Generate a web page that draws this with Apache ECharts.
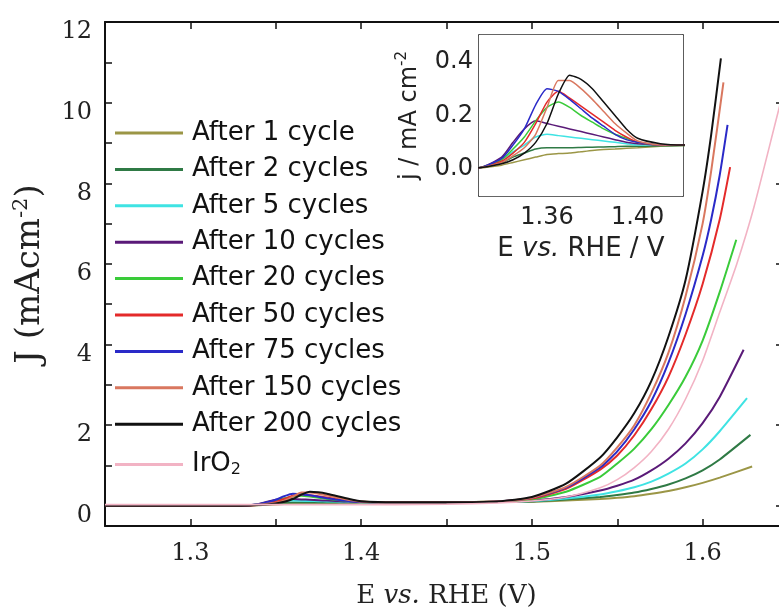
<!DOCTYPE html>
<html>
<head>
<meta charset="utf-8">
<script src="https://cdn.jsdelivr.net/npm/echarts@6/dist/echarts.min.js"></script>
<style>html,body{margin:0;padding:0;background:#fff;}#c{width:779px;height:612px;}</style>
</head>
<body>
<div id="c"></div>
<script>
// ---- data ----
const names = ['After 1 cycle','After 2 cycles','After 5 cycles','After 10 cycles','After 20 cycles','After 50 cycles','After 75 cycles','After 150 cycles','After 200 cycles','IrO2'];
const E = [1.25,1.30,1.33,1.34,1.345,1.35,1.355,1.36,1.365,1.37,1.375,1.38,1.385,1.39,1.395,1.40,1.41,1.42,1.45,1.48,1.50,1.52,1.54,1.55,1.56,1.57,1.58,1.59,1.60];
const J_1   = [0,0,0.005,0.015,0.025,0.035,0.045,0.055,0.058,0.06,0.065,0.07,0.073,0.075,0.078,0.08,0.085,0.088,0.09,0.095,0.1,0.13,0.17,0.2,0.24,0.3,0.37,0.46,0.57];
const J_2   = [0,0,0.005,0.025,0.045,0.06,0.075,0.08,0.08,0.08,0.081,0.082,0.083,0.084,0.085,0.085,0.087,0.088,0.09,0.1,0.11,0.16,0.22,0.27,0.33,0.42,0.53,0.68,0.88];
const J_5   = [0,0,0.005,0.035,0.065,0.09,0.12,0.13,0.125,0.12,0.115,0.11,0.105,0.1,0.095,0.09,0.09,0.09,0.09,0.1,0.12,0.18,0.28,0.36,0.46,0.6,0.8,1.05,1.4];
const J_10  = [0,0,0.005,0.045,0.1,0.15,0.18,0.17,0.16,0.15,0.14,0.13,0.12,0.11,0.1,0.095,0.09,0.09,0.09,0.1,0.13,0.22,0.38,0.5,0.65,0.88,1.17,1.55,2.05];
const J_20  = [0,0,0.005,0.035,0.075,0.12,0.18,0.23,0.25,0.23,0.2,0.175,0.15,0.13,0.115,0.1,0.09,0.09,0.09,0.105,0.16,0.35,0.72,1.05,1.42,1.9,2.5,3.2,4.1];
const J_50  = [0,0,0.005,0.03,0.06,0.1,0.17,0.25,0.29,0.265,0.235,0.205,0.175,0.145,0.12,0.1,0.09,0.09,0.09,0.11,0.18,0.42,0.9,1.25,1.75,2.4,3.2,4.25,5.5];
const J_75  = [0,0,0.005,0.04,0.09,0.15,0.24,0.3,0.29,0.26,0.225,0.19,0.16,0.13,0.11,0.1,0.09,0.09,0.09,0.11,0.2,0.45,0.95,1.35,1.9,2.6,3.55,4.75,6.2];
const J_150 = [0,0,0.005,0.025,0.05,0.08,0.13,0.23,0.33,0.33,0.3,0.26,0.215,0.17,0.135,0.105,0.09,0.09,0.09,0.11,0.2,0.47,1.0,1.45,2.0,2.8,3.8,5.2,7.0];
const J_200 = [0,0,0.005,0.02,0.035,0.06,0.1,0.17,0.28,0.35,0.335,0.3,0.25,0.2,0.15,0.115,0.095,0.09,0.09,0.11,0.22,0.55,1.2,1.7,2.3,3.1,4.2,5.6,7.8];
const J_Ir  = [0.03,0.03,0.03,0.03,0.03,0.03,0.03,0.03,0.03,0.03,0.03,0.03,0.03,0.03,0.03,0.03,0.03,0.03,0.04,0.07,0.12,0.22,0.45,0.65,0.95,1.35,1.9,2.65,3.6];
const tailE_1 = [1.61,1.629],   tailJ_1 = [0.7,0.975];
const tailE_2 = [1.61,1.628],   tailJ_2 = [1.15,1.76];
const tailE_5 = [1.61,1.626],   tailJ_5 = [1.85,2.67];
const tailE_10 = [1.61,1.624],  tailJ_10 = [2.7,3.87];
const tailE_20 = [1.61,1.6197], tailJ_20 = [5.3,6.6];
const tailE_50 = [1.61,1.6161], tailJ_50 = [7.1,8.4];
const tailE_75 = [1.605,1.61,1.6146], tailJ_75 = [7.1,8.2,9.45];
const tailE_150 = [1.605,1.6122], tailJ_150 = [8.3,10.5];
const tailE_200 = [1.605,1.6107], tailJ_200 = [9.2,11.1];
const tailE_Ir = [1.61,1.62,1.63,1.645,1.66], tailJ_Ir = [4.8,6.0,7.4,9.9,12.3];
const xLabels = [1.3,1.4,1.5,1.6];
const yLabels = [0,2,4,6,8,10,12];
const yTicks = [0,1,2,3,4,5,6,7,8,9,10,11,12];
const insetXLabels = [1.36,1.40];
const insetXTicks = [1.34,1.36,1.38,1.40];
const insetYLabels = [0.0,0.2,0.4];
const insetYTicks = [0.0,0.1,0.2,0.3,0.4];

// ---- styles ----
const colors = ['#9b9646','#2f7a45','#3fe3e3','#5a1a78','#3acb3a','#e42a2a','#2a2ac8','#d9775f','#111111','#f2b3c4'];
const Js = [J_1,J_2,J_5,J_10,J_20,J_50,J_75,J_150,J_200,J_Ir];
const tE = [tailE_1,tailE_2,tailE_5,tailE_10,tailE_20,tailE_50,tailE_75,tailE_150,tailE_200,tailE_Ir];
const tJ = [tailJ_1,tailJ_2,tailJ_5,tailJ_10,tailJ_20,tailJ_50,tailJ_75,tailJ_150,tailJ_200,tailJ_Ir];

function pts(i){
  const a = E.map((e,k)=>[e,Js[i][k]]);
  tE[i].forEach((e,k)=>a.push([e,tJ[i][k]]));
  return a;
}

const chart = echarts.init(document.getElementById('c'), null, {renderer:'canvas'});
const serif = 'DejaVu Serif';
const sans = 'DejaVu Sans';
const axisLine = {show:true, onZero:false, lineStyle:{color:'#111', width:2}};
const insetLine = {show:true, onZero:false, lineStyle:{color:'#333', width:1.6}};

const series = [];
names.forEach((n,i)=>{
  series.push({name:n, type:'line', xAxisIndex:0, yAxisIndex:0, data:pts(i), showSymbol:false, symbol:'none', smooth:0.2,
    lineStyle:{color:colors[i], width:i===9?1.6:2}, itemStyle:{color:colors[i]}, z: 3+i});
});
for(let i=0;i<9;i++){
  series.push({name:names[i], type:'line', xAxisIndex:2, yAxisIndex:2, data:pts(i), showSymbol:false, symbol:'none', smooth:0.2,
    lineStyle:{color:colors[i], width:1.5}, itemStyle:{color:colors[i]}, z: 20+i});
}

chart.setOption({
  animation:false,
  backgroundColor:'#fff',
  grid:[
    {left:105, top:22, width:683, height:504, show:false, outerBoundsMode:'none', containLabel:false},
    {left:479, top:35, width:204, height:161, show:true, backgroundColor:'#fff', borderWidth:0, z:10, outerBoundsMode:'none', containLabel:false}
  ],
  legend:{
    orient:'vertical', left:115, top:120, padding:0, itemWidth:68, itemHeight:3, itemGap:10.4, icon:'rect',
    data:names,
    formatter:(n)=> n==='IrO2' ? 'IrO{sub|2}' : n,
    textStyle:{fontFamily:sans, fontSize:26, color:'#111', lineHeight:26, padding:[0,0,0,4],
      rich:{sub:{fontFamily:sans, fontSize:16, color:'#111', verticalAlign:'bottom', lineHeight:26, padding:[14,0,0,0]}}}
  },
  xAxis:[
    {type:'value', gridIndex:0, min:1.25, max:1.65, interval:0.05, position:'bottom',
     axisLine:axisLine, splitLine:{show:false},
     axisTick:{inside:true, length:7, lineStyle:{color:'#111', width:1.5}},
     axisLabel:{customValues:xLabels, formatter:v=>v.toFixed(1), margin:16, fontFamily:serif, fontSize:24, color:'#222'},
     name:'E {i|vs.} RHE (V)', nameLocation:'middle', nameGap:57,
     nameTextStyle:{fontFamily:serif, fontSize:26, color:'#222', rich:{i:{fontFamily:serif, fontStyle:'italic', fontSize:26, color:'#222'}}}},
    {type:'value', gridIndex:0, min:1.25, max:1.65, interval:0.05, position:'top',
     axisLine:axisLine, splitLine:{show:false}, axisLabel:{show:false},
     axisTick:{inside:true, length:7, lineStyle:{color:'#111', width:1.5}}},
    {type:'value', gridIndex:1, min:1.33, max:1.42, position:'bottom',
     axisLine:insetLine, splitLine:{show:false},
     axisTick:{inside:true, length:5, customValues:insetXTicks, lineStyle:{color:'#333', width:1.2}},
     axisLabel:{customValues:insetXLabels, formatter:v=>v.toFixed(2), margin:10, fontFamily:sans, fontSize:24, color:'#222'},
     name:'E {i|vs.} RHE / V', nameLocation:'middle', nameGap:40,
     nameTextStyle:{fontFamily:sans, fontSize:26, color:'#222', rich:{i:{fontFamily:sans, fontStyle:'italic', fontSize:26, color:'#222'}}}},
    {type:'value', gridIndex:1, min:1.33, max:1.42, position:'top',
     axisLine:insetLine, splitLine:{show:false}, axisLabel:{show:false},
     axisTick:{inside:true, length:5, customValues:insetXTicks, lineStyle:{color:'#333', width:1.2}}}
  ],
  yAxis:[
    {type:'value', gridIndex:0, min:-0.5, max:12, position:'left',
     axisLine:axisLine, splitLine:{show:false},
     axisTick:{inside:true, length:7, customValues:yTicks, lineStyle:{color:'#111', width:1.5}},
     axisLabel:{customValues:yLabels, margin:13, fontFamily:serif, fontSize:24, color:'#222', verticalAlign:'top', lineHeight:20},
     name:'J (mAcm{sup|-2})', nameLocation:'middle', nameGap:50, nameRotate:90,
     nameTextStyle:{fontFamily:serif, fontSize:34, color:'#222', lineHeight:40,
       rich:{sup:{fontFamily:serif, fontSize:21, color:'#222', verticalAlign:'top', lineHeight:40}}}},
    {type:'value', gridIndex:0, min:-0.5, max:12, position:'right',
     axisLine:axisLine, splitLine:{show:false}, axisLabel:{show:false},
     axisTick:{inside:true, length:12, customValues:yLabels, lineStyle:{color:'#111', width:1.5}}},
    {type:'value', gridIndex:1, min:-0.1, max:0.5, position:'left',
     axisLine:insetLine, splitLine:{show:false},
     axisTick:{inside:true, length:5, customValues:insetYTicks, lineStyle:{color:'#333', width:1.2}},
     axisLabel:{customValues:insetYLabels, formatter:v=>v.toFixed(1), margin:6, fontFamily:sans, fontSize:24, color:'#222'},
     name:'j / mA cm{sup|-2}', nameLocation:'middle', nameGap:54, nameRotate:90,
     nameTextStyle:{fontFamily:sans, fontSize:24, color:'#222', lineHeight:30,
       rich:{sup:{fontFamily:sans, fontSize:15, color:'#222', verticalAlign:'top', lineHeight:30}}}},
    {type:'value', gridIndex:1, min:-0.1, max:0.5, position:'right',
     axisLine:insetLine, splitLine:{show:false}, axisLabel:{show:false},
     axisTick:{inside:true, length:5, customValues:insetYTicks, lineStyle:{color:'#333', width:1.2}}}
  ],
  series:series
});
</script>
</body>
</html>
